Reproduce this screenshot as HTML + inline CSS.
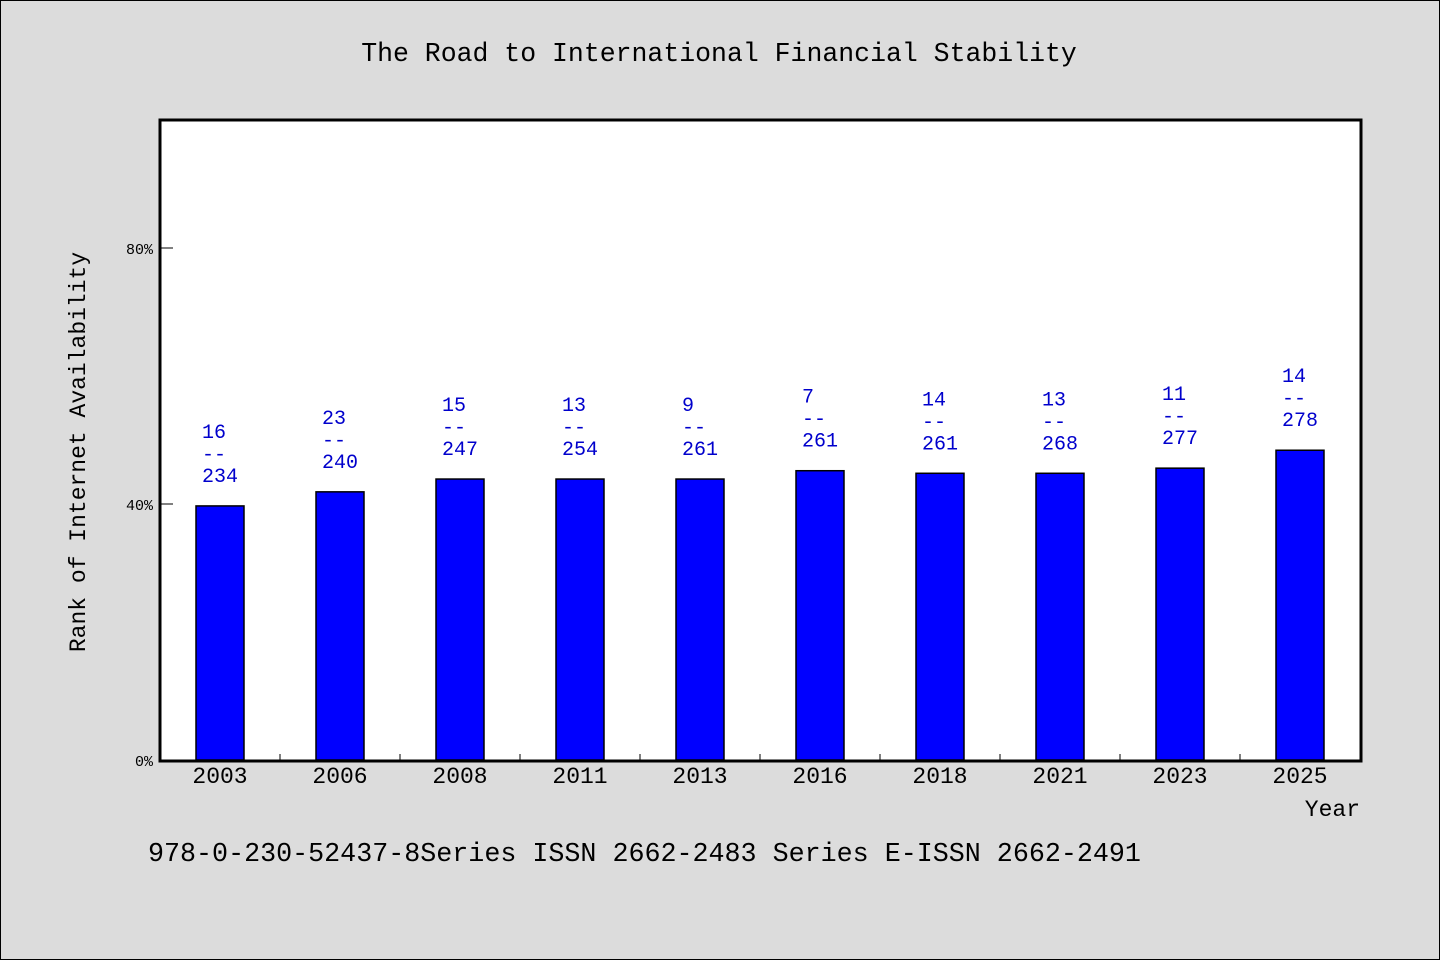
<!DOCTYPE html>
<html><head><meta charset="utf-8"><style>
html,body{margin:0;padding:0;background:#dcdcdc;}
svg{display:block;font-family:"Liberation Mono",monospace;}
</style></head><body>
<svg id="chart" width="1440" height="960">
<rect x="0.5" y="0.5" width="1439" height="959" fill="#dcdcdc" stroke="#000"/>
<text x="719" y="61" text-anchor="middle" font-size="26.5">The Road to International Financial Stability</text>
<rect x="160" y="120" width="1201" height="641" fill="#fff"/>
<g id="marks"></g>
<rect x="160" y="120" width="1201" height="641" fill="none" stroke="#000" stroke-width="3"/>
<text transform="translate(85,452) rotate(-90)" text-anchor="middle" font-size="23">Rank of Internet Availability</text>
<text x="1360" y="816" text-anchor="end" font-size="23">Year</text>
<text x="148" y="861" font-size="26.7">978-0-230-52437-8Series ISSN 2662-2483 Series E-ISSN 2662-2491</text>
</svg>
<script>
const categories = ["2003","2006","2008","2011","2013","2016","2018","2021","2023","2025"];
const values = [39.7, 41.9, 43.9, 43.9, 43.9, 45.2, 44.8, 44.8, 45.6, 48.4];
const topLabels = ["16","23","15","13","9","7","14","13","11","14"];
const bottomLabels = ["234","240","247","254","261","261","261","268","277","278"];
const yTicks = [0, 40, 80];
const NS = "http://www.w3.org/2000/svg";
const g = document.getElementById("marks");
const x0 = 160, bandW = 120, yBase = 760, pxPer = 6.4;
function xc(i){ return x0 + bandW*(i+0.5); }
function ys(v){ return yBase - v*pxPer; }
function mk(tag, attrs, text){
  const e = document.createElementNS(NS, tag);
  for (const k in attrs) e.setAttribute(k, attrs[k]);
  if (text !== undefined) e.textContent = text;
  g.appendChild(e); return e;
}
yTicks.forEach(t => {
  const l = mk("line", {x1:160, x2:173, y1:ys(t), y2:ys(t), stroke:"#000", "stroke-width":1});
  
  
  const tx = mk("text", {x:153, y:ys(t)+6, "text-anchor":"end", "font-size":15}, t + "%");
  
  
});
categories.forEach((c, i) => {
  if (i > 0) {
    const tk = mk("line", {x1:x0+bandW*i, x2:x0+bandW*i, y1:754, y2:760, stroke:"#000"});
    
    
  }
  const top = ys(values[i]);
  const b = mk("rect", {x:xc(i)-24, y:top, width:48, height:yBase-top, fill:"#0000ff", stroke:"#000", "stroke-width":1.5});
  
  
  const xl = mk("text", {x:xc(i), y:783, "text-anchor":"middle", "font-size":23}, c);
  
  
  const lx = xc(i) - 18;
  const t1 = mk("text", {x:lx, y:top-68, "font-size":20, fill:"#0000cc"}, topLabels[i]);
  
  
  const t2 = mk("text", {x:lx, y:top-46, "font-size":20, fill:"#0000cc"}, "--");
  
  
  const t3 = mk("text", {x:lx, y:top-24, "font-size":20, fill:"#0000cc"}, bottomLabels[i]);
  
  
});
</script>
</body></html>
